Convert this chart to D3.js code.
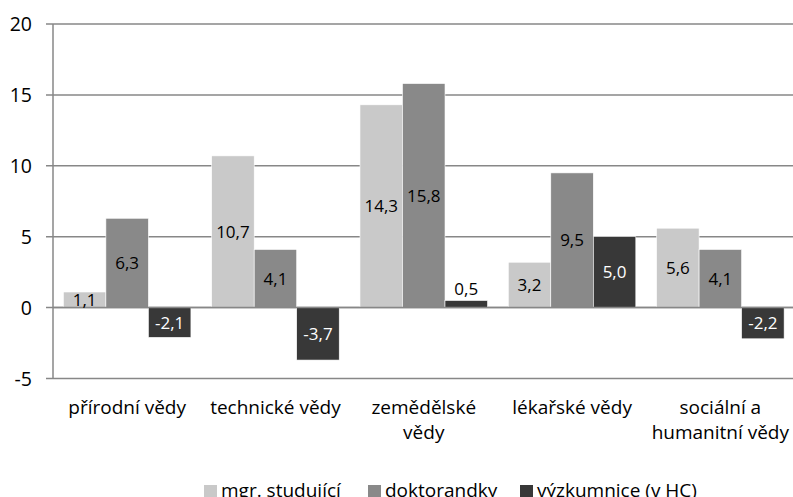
<!DOCTYPE html>
<html><head><meta charset="utf-8">
<script src="https://cdn.jsdelivr.net/npm/d3@7"></script>
<style>html,body{margin:0;padding:0;background:#fff;overflow:hidden}svg{display:block}</style>
</head><body>
<svg id="c" width="793" height="497"></svg>
<script>
const categories = [["přírodní vědy"],["technické vědy"],["zemědělské","vědy"],["lékařské vědy"],["sociální a","humanitní vědy"]];
const seriesNames = ["mgr. studující","doktorandky","výzkumnice (v HC)"];
const mgr = [1.1, 10.7, 14.3, 3.2, 5.6];
const doktorandky = [6.3, 4.1, 15.8, 9.5, 4.1];
const vyzkumnice = [-2.1, -3.7, 0.5, 5.0, -2.2];
const yTicks = [-5, 0, 5, 10, 15, 20];

const series = [mgr, doktorandky, vyzkumnice];
const colors = ["#c9c9c9", "#898989", "#383838"];
const labelColors = ["#000", "#000", "#fff"];
const font = "'Open Sans', sans-serif";

const svg = d3.select("#c");
const left = 53, right = 794.5;
const catKeys = categories.map(c => c.join(" "));
const x0 = d3.scaleBand().domain(catKeys).range([left, right]).paddingInner(0.14).paddingOuter(0.07);
const x1 = d3.scaleBand().domain(d3.range(series.length)).range([0, x0.bandwidth()]);
const y = d3.scaleLinear().domain([-5, 20]).range([378.5, 24]);

// gridlines
svg.append("g").selectAll("line").data(yTicks).join("line")
  .attr("x1", left - 7).attr("x2", 793)
  .attr("y1", d => y(d)).attr("y2", d => y(d))
  .attr("stroke", "#878787").attr("stroke-width", 1.5);

// y tick labels
svg.append("g").selectAll("text").data(yTicks).join("text")
  .attr("x", 32).attr("y", d => y(d)).attr("dy", "0.36em")
  .attr("text-anchor", "end").attr("font-family", font).attr("font-size", 19.5)
  .attr("fill", "#000").text(d => d);

// bars
const bars = [];
series.forEach((s, si) => s.forEach((v, ci) => bars.push({si, ci, v})));
svg.append("g").selectAll("rect").data(bars).join("rect")
  .attr("x", d => x0(catKeys[d.ci]) + x1(d.si))
  .attr("width", x1.bandwidth())
  .attr("y", d => y(Math.max(0, d.v)))
  .attr("height", d => Math.abs(y(d.v) - y(0)))
  .attr("fill", d => colors[d.si])
  .attr("stroke", "#fff").attr("stroke-width", 0.6);

// zero line above bars
svg.append("line").attr("x1", left).attr("x2", 793).attr("y1", y(0)).attr("y2", y(0))
  .attr("stroke", "#878787").attr("stroke-width", 1.5);

// y axis line
svg.append("line").attr("x1", left).attr("x2", left).attr("y1", y(20)).attr("y2", y(-5))
  .attr("stroke", "#878787").attr("stroke-width", 1.5);

// data labels
const fmt = v => v.toFixed(1).replace(".", ",");
svg.append("g").selectAll("text").data(bars).join("text")
  .attr("x", d => x0(catKeys[d.ci]) + x1(d.si) + x1.bandwidth() / 2)
  .attr("y", d => Math.abs(d.v) < 1 ? y(d.v) - 12 : (y(d.v) + y(0)) / 2)
  .attr("dy", "0.36em")
  .attr("text-anchor", "middle").attr("font-family", font).attr("font-size", 17)
  .attr("fill", d => Math.abs(d.v) < 1 ? "#000" : labelColors[d.si])
  .text(d => fmt(d.v));

// category labels
const cat = svg.append("g").selectAll("text").data(categories).join("text")
  .attr("text-anchor", "middle").attr("font-family", font).attr("font-size", 19).attr("fill", "#000");
cat.each(function(lines, i) {
  const cx = x0(catKeys[i]) + x0.bandwidth() / 2;
  d3.select(this).selectAll("tspan").data(lines).join("tspan")
    .attr("x", cx).attr("y", (d, j) => 414 + j * 25).text(d => d);
});

// legend
const legendX = [204, 368, 520];
const lg = svg.append("g").selectAll("g").data(seriesNames).join("g")
  .attr("transform", (d, i) => `translate(${legendX[i]},0)`);
lg.append("rect").attr("x", 0).attr("y", 485).attr("width", 13).attr("height", 13)
  .attr("fill", (d, i) => colors[i]);
lg.append("text").attr("x", 17).attr("y", 497).attr("font-family", font).attr("font-size", 19)
  .attr("fill", "#000").text(d => d);
</script>
</body></html>
